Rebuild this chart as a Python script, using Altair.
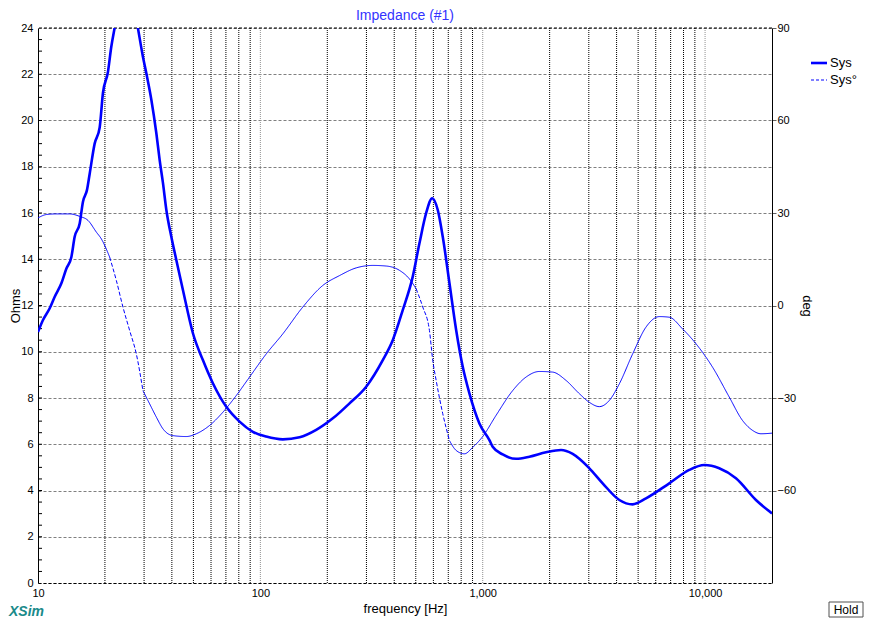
import altair as alt
import numpy as np
import pandas as pd

# ---- data ----
imp_freq = [10, 10.53, 11.29, 11.89, 12.74, 13.42, 14.13, 14.62, 15.40, 15.93, 16.61, 17.08,
            17.98, 18.94, 19.60, 20.63, 21.37, 22.11, 23.53, 24.91, 26.37, 28.14, 29.64, 30.71,
            32.34, 34.06, 35.24, 36.47, 37.78, 39.78, 41.88, 44.85, 49.74, 55.15, 61.16, 70.27,
            80.63, 92.52, 106.3, 126.2, 150.1, 178.3, 211.8, 251.8, 299.2, 355.3, 393.9, 436.9,
            484.6, 519.4, 556.6, 592.3, 627.9, 661.2, 708.8, 759.5, 813.3, 871.3, 966.4, 1072,
            1109, 1230, 1413, 1622, 1927, 2251, 2539, 3017, 3463, 4116, 4724, 5425, 6904, 8491,
            9918, 11581, 13768, 16935, 20000]
imp_ohm = [10.85, 11.37, 11.88, 12.38, 12.96, 13.6, 14.1, 14.97, 15.55, 16.49, 17.0, 17.7,
           19.0, 19.7, 21.2, 22.1, 23.2, 24.0, 25.4, 26.3, 25.5, 24.0, 22.76, 22.04,
           20.9, 19.45, 18.3, 17.3, 16.13, 14.97, 13.97, 12.67, 10.8, 9.64, 8.64, 7.62,
           6.98, 6.54, 6.33, 6.21, 6.30, 6.62, 7.12, 7.77, 8.49, 9.64, 10.5, 11.8,
           13.25, 14.69, 15.99, 16.64, 16.13, 14.97, 12.96, 10.94, 9.35, 8.2, 6.9, 6.18,
           5.89, 5.56, 5.37, 5.46, 5.65, 5.75, 5.58, 4.96, 4.31, 3.59, 3.40, 3.66, 4.31, 4.89,
           5.10, 4.96, 4.53, 3.59, 3.01]

ph_freq = [10, 10.91, 12.10, 13.88, 15.40, 16.78, 18.30, 19.27, 21.00, 22.51, 24.10, 25.83,
           27.68, 29.64, 31.77, 34.06, 36.47, 40.44, 46.45, 51.52, 59.12, 67.87, 77.93, 89.43,
           106.3, 126.2, 155.2, 190.9, 227.0, 269.8, 320.4, 368.0, 422.3, 468.4, 502.0, 537.6,
           576.0, 596.2, 617.6, 661.2, 708.8, 759.5, 827.6, 901.9, 1000, 1149, 1364, 1567,
           1798, 2063, 2370, 2720, 3017, 3346, 3710, 4116, 4724, 5425, 6228, 6904, 7924, 9101,
           10807, 12848, 14744, 16351, 17836, 20000]
ph_deg = [28.4, 29.5, 29.7, 29.7, 28.9, 27.6, 23.8, 21.6, 15.7, 8.1, -0.5, -8.1,
          -15.7, -27.6, -31.9, -36.2, -40.0, -42.2, -42.5, -41.6, -38.9, -34.6, -29.2, -23.2,
          -15.7, -9.2, -0.5, 6.5, 9.7, 12.2, 13.0, 12.8, 11.4, 8.6, 5.4, -0.5,
          -8.1, -17.8, -24.3, -35.1, -43.8, -47.0, -48.1, -46.0, -42.5, -35.6, -27.6, -23.2,
          -21.4, -21.6, -24.3, -28.6, -31.4, -32.8, -30.8, -25.4, -15.7, -7.0, -3.6, -3.8, -7.6, -12.4,
          -20.0, -29.7, -37.3, -40.5, -41.6, -41.4]

x_tick_labels = [10, 100, 1000, 10000]
ohm_ticks = [0, 2, 4, 6, 8, 10, 12, 14, 16, 18, 20, 22, 24]
deg_ticks = [-60, -30, 0, 30, 60, 90]
minor_grid = [20, 30, 40, 50, 60, 70, 80, 90, 200, 300, 400, 500, 600, 700, 800, 900,
              2000, 3000, 4000, 5000, 6000, 7000, 8000, 9000]
decade_grid = [100, 1000, 10000]
ohm_minor = [i * 0.5 for i in range(1, 48)]
series_names = ["Sys", "Sys°"]
title_text = "Impedance (#1)"

FONT = "Liberation Sans"
BLUE = "#0000ff"

imp_df = pd.DataFrame({"f": imp_freq, "ohm": imp_ohm})

# phase trace: XSim's dashed pen only shows its dashes on the steep stretches
pf = np.array(ph_freq, dtype=float)
pd_ = np.array(ph_deg, dtype=float)
slope = np.abs(np.diff(pd_) / np.diff(np.log10(pf)))  # deg per decade, per interval
steep = slope > 170
rows = []
seg = 0
for i in range(len(steep)):
    if i > 0 and steep[i] != steep[i - 1]:
        seg += 1
    style = "dash" if steep[i] else "solid"
    rows.append({"f": pf[i], "deg": pd_[i], "seg": seg, "style": style, "o": i})
    rows.append({"f": pf[i + 1], "deg": pd_[i + 1], "seg": seg, "style": style, "o": i + 1})
ph_df = pd.DataFrame(rows).drop_duplicates()

mg_df = pd.DataFrame({"f": minor_grid})
dg_df = pd.DataFrame({"f": decade_grid})
top_df = pd.DataFrame({"ohm": [24]})
om_df = pd.DataFrame({"ohm": ohm_minor})
one = pd.DataFrame({"a": [0]})

xscale = alt.Scale(type="log", domain=[10, 20000], nice=False)
yscale = alt.Scale(domain=[0, 24], nice=False, zero=False)
pscale = alt.Scale(domain=[-90, 90], nice=False, zero=False)

xaxis = alt.Axis(values=x_tick_labels, format=",", grid=False, ticks=False,
                 labelPadding=4, labelFlush=False, domainColor="black", domainDash=[3, 2],
                 title="frequency [Hz]", titlePadding=4)
yaxis = alt.Axis(values=ohm_ticks, grid=True, gridDash=[3, 2], gridColor="#808080",
                 ticks=False, labelPadding=5, labelFlush=False, domainColor="black",
                 title="Ohms", titleX=-23, titleY=277.5, titleAngle=270,
                 titleAlign="center", titleBaseline="middle")
paxis = alt.Axis(orient="right", values=deg_ticks, grid=False, tickSize=4,
                 tickColor="#606060", labelPadding=1, labelFlush=False, domainColor="black",
                 title="deg", titlePadding=4)

vminor = alt.Chart(mg_df).mark_rule(color="black", strokeWidth=1, strokeDash=[1, 1]).encode(
    x=alt.X("f:Q", scale=xscale, axis=xaxis))
vmajor = alt.Chart(dg_df).mark_rule(color="#909090", strokeWidth=1, strokeDash=[1, 1]).encode(
    x=alt.X("f:Q", scale=xscale, axis=xaxis))
topline = alt.Chart(top_df).mark_rule(color="black", strokeWidth=1, strokeDash=[3, 2]).encode(
    y=alt.Y("ohm:Q", scale=yscale, axis=yaxis))
minor_ticks = alt.Chart(om_df).mark_rule(color="black", strokeWidth=1).encode(
    y=alt.Y("ohm:Q", scale=yscale, axis=yaxis),
    x=alt.value(0), x2=alt.value(4))

imp_line = alt.Chart(imp_df).mark_line(color=BLUE, strokeWidth=2.6, clip=True,
                                       interpolate="monotone").encode(
    x=alt.X("f:Q", scale=xscale, axis=xaxis),
    y=alt.Y("ohm:Q", scale=yscale, axis=yaxis),
)

ph_line = alt.Chart(ph_df).mark_line(color=BLUE, strokeWidth=1, interpolate="monotone").encode(
    x=alt.X("f:Q", scale=xscale, axis=xaxis),
    y=alt.Y("deg:Q", scale=pscale, axis=paxis),
    detail="seg:N",
    order="o:Q",
    strokeDash=alt.StrokeDash("style:N", legend=None,
                              scale=alt.Scale(domain=["solid", "dash"],
                                              range=[[1, 0], [4, 2]])),
)

# title, legend and window furniture
title_mark = alt.Chart(one).mark_text(text=title_text, align="center", baseline="alphabetic",
                                      fontSize=14, font=FONT, color="#3333ff").encode(
    x=alt.value(367), y=alt.value(-8))
leg1_line = alt.Chart(one).mark_rule(color=BLUE, strokeWidth=2.6).encode(
    x=alt.value(773), x2=alt.value(789), y=alt.value(35))
leg2_line = alt.Chart(one).mark_rule(color=BLUE, strokeWidth=1, strokeDash=[3, 2]).encode(
    x=alt.value(773), x2=alt.value(789), y=alt.value(52))
leg1_text = alt.Chart(one).mark_text(text=series_names[0], align="left", baseline="middle",
                                     fontSize=13, font=FONT, color="black").encode(
    x=alt.value(792), y=alt.value(35))
leg2_text = alt.Chart(one).mark_text(text=series_names[1], align="left", baseline="middle",
                                     fontSize=13, font=FONT, color="black").encode(
    x=alt.value(792), y=alt.value(52))

xsim = alt.Chart(one).mark_text(text="XSim", align="left", baseline="middle", fontSize=14,
                                font=FONT, fontWeight="bold", fontStyle="italic",
                                color="#1a8a8a").encode(x=alt.value(-29), y=alt.value(584))
hold_box = alt.Chart(one).mark_rect(fill="#ffffff", stroke="#505050", strokeWidth=1).encode(
    x=alt.value(791), x2=alt.value(825), y=alt.value(574), y2=alt.value(589))
hold_text = alt.Chart(one).mark_text(text="Hold", align="center", baseline="middle",
                                     fontSize=12, font=FONT, color="black").encode(
    x=alt.value(808), y=alt.value(581.5))

left = alt.layer(vminor, vmajor, topline, minor_ticks, imp_line, title_mark,
                 leg1_line, leg2_line, leg1_text, leg2_text, xsim, hold_box, hold_text)

chart = alt.layer(left, ph_line).resolve_scale(y="independent").properties(
    width=734, height=555,
    autosize=alt.AutoSizeParams(type="none"),
    padding={"left": 30, "top": 20, "right": 92, "bottom": 36},
).configure_view(stroke=None).configure_axis(
    labelFont=FONT, labelFontSize=11, labelColor="black",
    titleFont=FONT, titleFontSize=13, titleFontWeight="normal", titleColor="black",
)

chart.save("out.html", embed_options={"renderer": "svg", "actions": False})
